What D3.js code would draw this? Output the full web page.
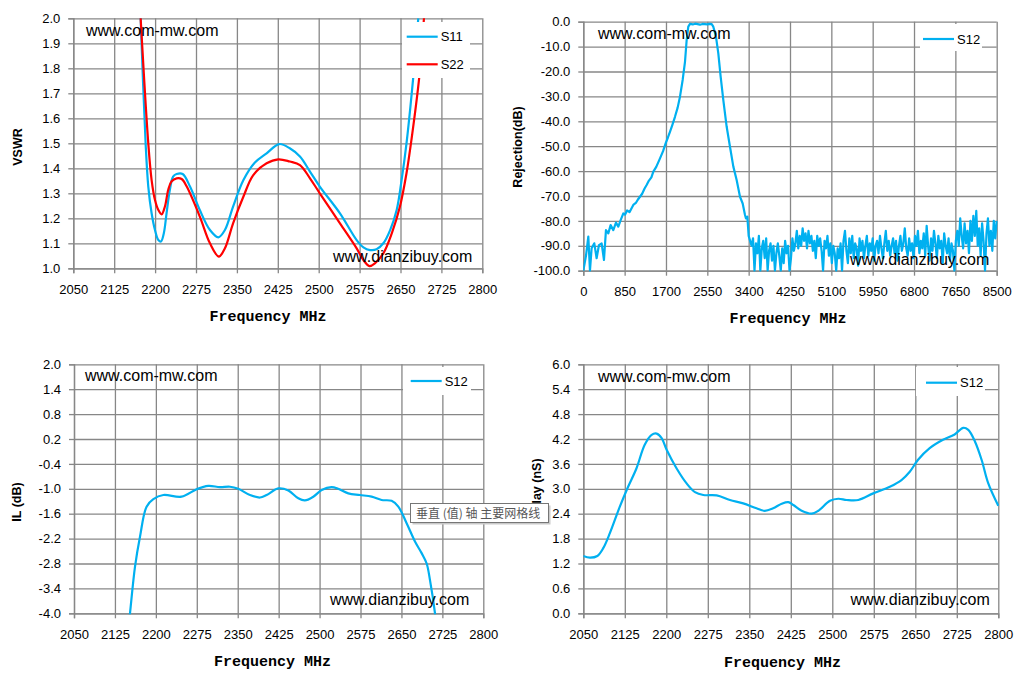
<!DOCTYPE html>
<html>
<head>
<meta charset="utf-8">
<script src="https://cdn.jsdelivr.net/npm/d3@7"></script>
<style>
  body { margin: 0; background: #fff; }
</style>
</head>
<body>
<svg id="chart" width="1028" height="677" font-family="Liberation Sans, Arial, sans-serif"></svg>
<script>
// ---- tick labels ----
const freqTicks = [2050, 2125, 2200, 2275, 2350, 2425, 2500, 2575, 2650, 2725, 2800]
const wideFreqTicks = [0, 850, 1700, 2550, 3400, 4250, 5100, 5950, 6800, 7650, 8500]
const vswrTicks = [1.0, 1.1, 1.2, 1.3, 1.4, 1.5, 1.6, 1.7, 1.8, 1.9, 2.0]
const rejTicks = [0, -10, -20, -30, -40, -50, -60, -70, -80, -90, -100]
const ilTicks = [2.0, 1.4, 0.8, 0.2, -0.4, -1.0, -1.6, -2.2, -2.8, -3.4, -4.0]
const delayTicks = [0.0, 0.6, 1.2, 1.8, 2.4, 3.0, 3.6, 4.2, 4.8, 5.4, 6.0]

// ---- VSWR ----
const s11Freq = [2173.5, 2182.6, 2187.5, 2193.6, 2199.8, 2206, 2210.8, 2216, 2221, 2227, 2233, 2239.5, 2250.5, 2264, 2282, 2300.6, 2316, 2328, 2343, 2362, 2383, 2404.5, 2427.7, 2447, 2465.6, 2484, 2502, 2539, 2569.6, 2582, 2594, 2606, 2618.5, 2631, 2643, 2652, 2661, 2673.5, 2682.6]
const s11Vswr = [2.0, 1.5, 1.327, 1.22, 1.153, 1.113, 1.107, 1.14, 1.22, 1.313, 1.367, 1.377, 1.377, 1.327, 1.233, 1.153, 1.124, 1.153, 1.247, 1.353, 1.423, 1.46, 1.497, 1.48, 1.447, 1.387, 1.327, 1.22, 1.113, 1.084, 1.073, 1.076, 1.1, 1.153, 1.233, 1.353, 1.5, 1.767, 2.0]
const s22Freq = [2173.5, 2187.5, 2193.6, 2199.8, 2206, 2212, 2218, 2224, 2230, 2239.5, 2248.7, 2258, 2282, 2300.6, 2317, 2328, 2343, 2362, 2380, 2404.5, 2426, 2447, 2465.6, 2484, 2502, 2539, 2569.6, 2582, 2593, 2603, 2618.5, 2634, 2649, 2661, 2670, 2684.5, 2693]
const s22Vswr = [2.0, 1.5, 1.353, 1.273, 1.233, 1.216, 1.247, 1.313, 1.347, 1.36, 1.357, 1.327, 1.207, 1.1, 1.047, 1.08, 1.18, 1.287, 1.373, 1.42, 1.436, 1.427, 1.413, 1.36, 1.3, 1.18, 1.08, 1.033, 1.009, 1.02, 1.06, 1.14, 1.247, 1.38, 1.513, 1.767, 2.0]

// ---- wideband rejection, passband part ----
const rejFreq = [0, 55, 103, 137, 171, 226, 274, 322, 377, 425, 466, 514, 562, 617, 672, 720, 768, 823, 857, 900, 950, 1028, 1080, 1120, 1165, 1210, 1260, 1302, 1350, 1400, 1440, 1500, 1577, 1640, 1693, 1740, 1782, 1830, 1885, 1940, 1988, 2043, 2091, 2125, 2159, 2194, 2250, 2300, 2350, 2400, 2450, 2500, 2550, 2600, 2640, 2673, 2728, 2776, 2824, 2879, 2948, 3016, 3085, 3153, 3222, 3277, 3325, 3345, 3373]
const rejVal = [-100, -94, -86.3, -100, -91, -89, -95, -89.7, -89, -95.7, -83.7, -85, -81.7, -83.7, -80.7, -82.3, -79.7, -77, -77.5, -75.8, -76.5, -73.6, -72.8, -71.5, -70.3, -69.1, -67, -65.6, -63.8, -62.5, -60.2, -58.3, -54.9, -52, -48.9, -46.5, -44.2, -41.5, -38.2, -34.5, -30.1, -23.4, -16.1, -7.4, -2, -0.9, -1.1, -0.8, -1.0, -1.2, -0.9, -1.0, -1.1, -0.9, -1.0, -2, -6, -12.7, -22.1, -31.5, -42.2, -50.2, -58.2, -63.6, -70.3, -73, -77.6, -79, -78.3]
// stopband floor, one value every 30 MHz from 3400 to 8500
const floorStart = 3400, floorStep = 30
const floorVal = [
  -86, -88, -90, -87, -100, -89, -93, -86, -100, -91,
  -88, -95, -87, -100, -92, -89, -96, -90, -100, -93,
  -89, -94, -100, -91, -97, -88, -93, -90, -100, -95,
  -87, -92, -89, -84, -91, -86, -90, -83, -88, -85,
  -91, -84, -89, -86, -92, -88, -95, -86, -90, -87,
  -92, -100, -88, -91, -86, -94, -89, -97, -90, -93,
  -100, -91, -95, -89, -100, -88, -84, -92, -97, -87,
  -93, -86, -95, -89, -91, -98, -87, -92, -88, -95,
  -90, -86, -94, -89, -92, -87, -96, -90, -88, -93,
  -86, -91, -95, -89, -84, -92, -88, -94, -90, -87,
  -93, -88, -96, -90, -86, -92, -89, -83, -91, -94,
  -87, -92, -89, -95, -86, -90, -84, -93, -88, -91,
  -85, -94, -82, -90, -96, -87, -92, -84, -89, -95,
  -86, -91, -88, -97, -85, -90, -93, -87, -96, -89,
  -92, -100, -88, -84, -90, -79, -86, -91, -81, -89,
  -84, -93, -80, -88, -78, -86, -76, -90, -83, -94,
  -81, -88, -100, -85, -79, -90, -84, -92, -80, -87,
  -80]

// ---- insertion loss ----
const ilFreq = [2150, 2152.6, 2161.8, 2171, 2183, 2195.4, 2213.7, 2247, 2274.8, 2296, 2317.5, 2335.8, 2351, 2372.5, 2390.8, 2403, 2424.4, 2442.7, 2461, 2473, 2488.5, 2503.8, 2522, 2534, 2552.6, 2574, 2595.4, 2613.7, 2632, 2644.3, 2659.5, 2674.8, 2687, 2696.2, 2702.3, 2711.5, 2713]
const ilVal = [-4.3, -4.0, -2.875, -2.15, -1.43, -1.25, -1.15, -1.19, -1.01, -0.93, -0.96, -0.95, -1.0, -1.15, -1.21, -1.15, -0.99, -1.04, -1.23, -1.28, -1.19, -1.03, -0.96, -1.0, -1.11, -1.15, -1.19, -1.27, -1.29, -1.43, -1.83, -2.27, -2.55, -2.8, -3.2, -4.0, -4.2]

// ---- group delay ----
const gdFreq = [2050, 2062, 2075.3, 2086, 2098, 2116, 2131, 2146, 2161, 2173.5, 2182.5, 2191.6, 2200.6, 2218.7, 2236.7, 2251.8, 2266.9, 2291, 2315, 2339, 2363, 2378, 2393, 2408.4, 2420.5, 2429.5, 2444.6, 2462.7, 2474.7, 2495.8, 2510.8, 2526, 2547, 2574, 2604, 2625, 2640, 2655, 2676, 2700, 2721, 2736.7, 2745.8, 2757.8, 2769.8, 2781.9, 2800]
const gdVal = [1.38, 1.34, 1.38, 1.57, 1.93, 2.57, 3.05, 3.49, 4.06, 4.3, 4.33, 4.22, 3.94, 3.49, 3.13, 2.92, 2.85, 2.84, 2.73, 2.65, 2.53, 2.47, 2.53, 2.64, 2.68, 2.61, 2.47, 2.4, 2.47, 2.71, 2.76, 2.73, 2.73, 2.89, 3.05, 3.21, 3.41, 3.7, 3.98, 4.18, 4.31, 4.47, 4.42, 4.14, 3.7, 3.13, 2.59]

const BLUE = "#00b0f0", RED = "#ff0000", GRID = "#878787"
const SANS = "Liberation Sans, Arial, sans-serif"

const svg = d3.select("#chart")
svg.append("rect").attr("width", 1028).attr("height", 677).attr("fill", "#fff")

// zip x/y arrays into points
function pts(xs, ys) { return xs.map((x, i) => ({x: x, y: ys[i]})) }

let floorPts = floorVal.map((v, i) => ({x: floorStart + i*floorStep, y: v}))
let rejPts = pts(rejFreq, rejVal).concat(floorPts)

const panels = [
  {x0: 73.3, x1: 482.3, y0: 18.3, y1: 268.3, xDom: [2050, 2800], xTicks: freqTicks,
   yDom: [1, 2], yTicks: vswrTicks, yFmt: d => d.toFixed(1),
   yTitle: "VSWR", yTitleX: 21.5, yTitleY: 147, titleX: 268, titleY: 321,
   curve: d3.curveCatmullRom.alpha(0.5),
   series: [{name: "S11", color: BLUE, data: pts(s11Freq, s11Vswr)},
            {name: "S22", color: RED, data: pts(s22Freq, s22Vswr)}],
   legend: {x: 402, y: 22, w: 68, h: 56, lx: 406.7, ly: 36.7, step: 27.6},
   marks: [{t: "www.com-mw.com", x: 86, y: 36}, {t: "www.dianzibuy.com", x: 333, y: 262}]},
  {x0: 583.3, x1: 996.7, y0: 21.7, y1: 270.7, xDom: [0, 8500], xTicks: wideFreqTicks,
   yDom: [-100, 0], yTicks: rejTicks, yFmt: d => d.toFixed(1),
   yTitle: "Rejection(dB)", yTitleX: 522, yTitleY: 147, titleX: 788, titleY: 323,
   curve: d3.curveLinear,
   series: [{name: "S12", color: BLUE, data: rejPts}],
   legend: {x: 920, y: 24, w: 62, h: 27, lx: 923, ly: 39, step: 0},
   marks: [{t: "www.com-mw.com", x: 598, y: 38.5}, {t: "www.dianzibuy.com", x: 850, y: 265}]},
  {x0: 74, x1: 483.3, y0: 364.3, y1: 613.3, xDom: [2050, 2800], xTicks: freqTicks,
   yDom: [-4, 2], yTicks: ilTicks, yFmt: d => d.toFixed(1),
   yTitle: "IL (dB)", yTitleX: 21, yTitleY: 502, titleX: 272.5, titleY: 666,
   curve: d3.curveCatmullRom.alpha(0.5),
   series: [{name: "S12", color: BLUE, data: pts(ilFreq, ilVal)}],
   legend: {x: 403, y: 367, w: 68, h: 28, lx: 410.7, ly: 381, step: 0},
   marks: [{t: "www.com-mw.com", x: 85, y: 381}, {t: "www.dianzibuy.com", x: 330, y: 605}]},
  {x0: 583.3, x1: 998.3, y0: 364.3, y1: 613.3, xDom: [2050, 2800], xTicks: freqTicks,
   yDom: [0, 6], yTicks: delayTicks, yFmt: d => d.toFixed(1),
   yTitle: "Delay (nS)", yTitleX: 541, yTitleY: 489, titleX: 782.5, titleY: 667,
   curve: d3.curveCatmullRom.alpha(0.5),
   series: [{name: "S12", color: BLUE, data: pts(gdFreq, gdVal)}],
   legend: {x: 916, y: 367, w: 69, h: 29, lx: 926, ly: 382.7, step: 0},
   marks: [{t: "www.com-mw.com", x: 598, y: 382}, {t: "www.dianzibuy.com", x: 850.5, y: 605}]}
]

panels.forEach((p, k) => {
  let x = d3.scaleLinear().domain(p.xDom).range([p.x0, p.x1])
  let y = d3.scaleLinear().domain(p.yDom).range([p.y1, p.y0])
  let w = p.x1 - p.x0, h = p.y1 - p.y0
  let g = svg.append("g")

  // gridlines
  g.append("g").attr("transform", `translate(0,${p.y1})`)
    .call(d3.axisBottom(x).tickValues(p.xTicks).tickSize(-h).tickFormat(""))
    .call(a => a.select(".domain").remove())
    .selectAll("line").attr("stroke", GRID).attr("stroke-width", 1.3)
  g.append("g").attr("transform", `translate(${p.x0},0)`)
    .call(d3.axisLeft(y).tickValues(p.yTicks).tickSize(-w).tickFormat(""))
    .call(a => a.select(".domain").remove())
    .selectAll("line").attr("stroke", GRID).attr("stroke-width", 1.3)

  // axes with labels
  let xa = g.append("g").attr("transform", `translate(0,${p.y1})`)
    .call(d3.axisBottom(x).tickValues(p.xTicks).tickSize(5).tickPadding(11).tickFormat(d3.format("d")))
  let ya = g.append("g").attr("transform", `translate(${p.x0},0)`)
    .call(d3.axisLeft(y).tickValues(p.yTicks).tickSize(5).tickPadding(8).tickFormat(p.yFmt))
  ;[xa, ya].forEach(a => {
    a.select(".domain").attr("stroke", GRID).attr("stroke-width", 1.3)
    a.selectAll("line").attr("stroke", GRID).attr("stroke-width", 1.3)
    a.attr("font-family", SANS).attr("font-size", 13)
    a.selectAll("text").attr("fill", "#000")
  })

  // clip + series
  let clipId = "clip" + k
  svg.append("clipPath").attr("id", clipId).append("rect")
    .attr("x", p.x0).attr("y", p.y0 - 2).attr("width", w + 1).attr("height", h + 3)
  let line = d3.line().x(d => x(d.x)).y(d => y(d.y)).curve(p.curve)
  p.series.forEach(s => {
    g.append("path").datum(s.data)
      .attr("clip-path", `url(#${clipId})`)
      .attr("d", line)
      .attr("fill", "none")
      .attr("stroke", s.color)
      .attr("stroke-width", 2.2)
      .attr("stroke-linejoin", "round")
  })

  // watermarks
  p.marks.forEach(m => {
    g.append("text").attr("x", m.x).attr("y", m.y).text(m.t)
      .attr("font-size", 16).attr("fill", "#000")
  })

  // legend box
  let L = p.legend
  g.append("rect").attr("x", L.x).attr("y", L.y).attr("width", L.w).attr("height", L.h).attr("fill", "#fff")
  p.series.forEach((s, i) => {
    let ly = L.ly + i * L.step
    g.append("line").attr("x1", L.lx).attr("x2", L.lx + 31).attr("y1", ly).attr("y2", ly)
      .attr("stroke", s.color).attr("stroke-width", 2.2)
    g.append("text").attr("x", L.lx + 34).attr("y", ly + 4.7).text(s.name)
      .attr("font-size", 13).attr("fill", "#000")
  })

  // titles
  g.append("text").attr("x", p.titleX).attr("y", p.titleY)
    .attr("text-anchor", "middle").attr("font-family", "Liberation Mono, DejaVu Sans Mono, monospace")
    .attr("font-weight", "bold").attr("font-size", 15).text("Frequency MHz")
  g.append("text").attr("transform", `translate(${p.yTitleX},${p.yTitleY}) rotate(-90)`)
    .attr("text-anchor", "middle").attr("font-weight", "bold").attr("font-size", 12.5)
    .text(p.yTitle)
})

// hover tooltip left over on the picture
let tip = svg.append("g")
tip.append("rect").attr("x", 412.5).attr("y", 505.5).attr("width", 138).attr("height", 19).attr("fill", "#c9c9c9")
tip.append("rect").attr("x", 410.5).attr("y", 503.5).attr("width", 138).attr("height", 19)
  .attr("fill", "#fff").attr("stroke", "#767676").attr("stroke-width", 1)
tip.append("text").attr("x", 416).attr("y", 517.5)
  .attr("font-family", "Noto Sans CJK SC, sans-serif").attr("font-size", 12).attr("fill", "#575757")
  .text("垂直 (值) 轴 主要网格线")
</script>
</body>
</html>
